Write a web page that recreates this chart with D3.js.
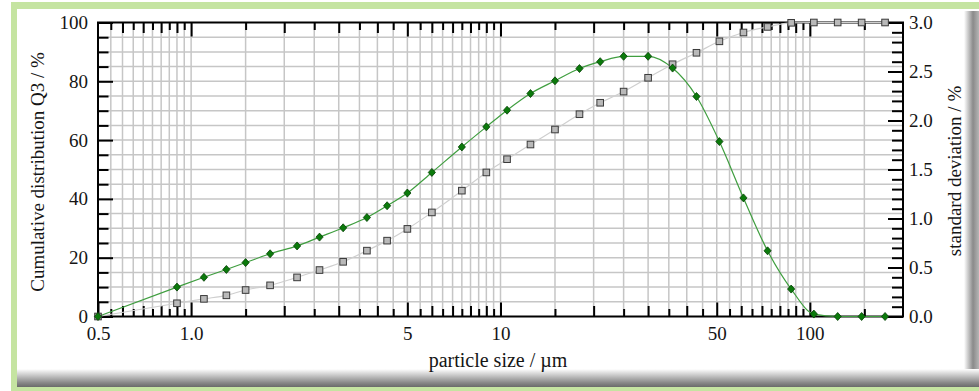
<!DOCTYPE html>
<html>
<head>
<meta charset="utf-8">
<script src="https://cdn.jsdelivr.net/npm/d3@7"></script>
<style>
  body { margin: 0; background: #fff; }
  svg { display: block; }
  text { font-family: "Liberation Serif", "DejaVu Serif", serif; fill: #151515; }
</style>
</head>
<body>
<script>
// particle size classes (µm)
const sizes = [0.5, 0.9, 1.1, 1.3, 1.5, 1.8, 2.2, 2.6, 3.1, 3.7, 4.3, 5.0, 6.0, 7.5, 9.0, 10.5,
  12.5, 15, 18, 21, 25, 30, 36, 43, 51, 61, 73, 87, 103, 123, 147, 175];
// cumulative distribution Q3 / %
const q3 = [0, 4.5, 6.0, 7.2, 9.0, 10.6, 13.3, 15.8, 18.6, 22.4, 25.8, 29.8, 35.4, 42.8, 49.0, 53.5,
  58.5, 63.6, 68.8, 72.7, 76.5, 81.2, 85.8, 89.7, 93.6, 96.6, 98.5, 99.9, 100, 100, 100, 100];
// standard deviation / %
const stdDev = [0, 0.30, 0.40, 0.48, 0.55, 0.64, 0.72, 0.81, 0.905, 1.01, 1.13, 1.26, 1.47, 1.73, 1.935, 2.105,
  2.275, 2.405, 2.53, 2.6, 2.655, 2.655, 2.535, 2.245, 1.785, 1.21, 0.67, 0.28, 0.025, 0, 0, 0];

const xTickVals = [0.5, 1, 5, 10, 50, 100];
const xTickText = ['0.5', '1.0', '5', '10', '50', '100'];
const yLeftTicks = [0, 20, 40, 60, 80, 100];
const yRightTicks = [0, 0.5, 1.0, 1.5, 2.0, 2.5, 3.0];

const W = 979, H = 391;
const svg = d3.select('body').append('svg').attr('width', W).attr('height', H);

// frame with green border and grey drop shadow
const defs = svg.append('defs');
const gR = defs.append('linearGradient').attr('id', 'shR').attr('x1', 0).attr('x2', 1).attr('y1', 0).attr('y2', 0);
gR.append('stop').attr('offset', '0%').attr('stop-color', '#fff');
gR.append('stop').attr('offset', '60%').attr('stop-color', '#8a8a8a');
gR.append('stop').attr('offset', '100%').attr('stop-color', '#b5b5b5');
const gB = defs.append('linearGradient').attr('id', 'shB').attr('x1', 0).attr('x2', 0).attr('y1', 0).attr('y2', 1);
gB.append('stop').attr('offset', '0%').attr('stop-color', '#fff');
gB.append('stop').attr('offset', '75%').attr('stop-color', '#8a8a8a');
gB.append('stop').attr('offset', '100%').attr('stop-color', '#6a6a6a');

svg.append('rect').attr('x', 11).attr('y', 2).attr('width', W - 11).attr('height', H - 2).attr('fill', '#c5e4a1');
svg.append('rect').attr('x', 17).attr('y', 9).attr('width', W - 17).attr('height', 378).attr('fill', '#fff');
svg.append('rect').attr('x', 964).attr('y', 11).attr('width', 15).attr('height', 376).attr('fill', 'url(#shR)');
svg.append('rect').attr('x', 17).attr('y', 369).attr('width', W - 17).attr('height', 18).attr('fill', 'url(#shB)');

const pLeft = 98, pRight = 903, pTop = 22.5, pBottom = 316.5;
const x = d3.scaleLog().domain([0.5, 200]).range([pLeft, pRight]);
const yL = d3.scaleLinear().domain([0, 100]).range([pBottom, pTop]);
const yR = d3.scaleLinear().domain([0, 3]).range([pBottom, pTop]);

// grid positions (log-style subdivisions)
const gridX = [].concat(
  d3.range(11, 20).map(i => +(i * 0.05).toFixed(2)), [1],
  d3.range(3, 20).map(i => i * 0.5), [10],
  d3.range(3, 20).map(i => i * 5), [100, 150]);
const gridY = d3.range(1, 20).map(i => i * 5);

function tickLen(v) {
  const m = +(v / Math.pow(10, Math.floor(Math.log10(v) + 1e-9))).toFixed(2);
  if (m === 1 || m === 5) return 14;
  if (Number.isInteger(m)) return 10.5;
  return 7.5;
}

const grid = svg.append('g').attr('stroke', '#c6c6c6').attr('stroke-width', 1.5);
grid.selectAll('.gx').data(gridX).join('line')
  .attr('x1', d => x(d)).attr('x2', d => x(d)).attr('y1', pTop).attr('y2', pBottom);
grid.selectAll('.gy').data(gridY).join('line')
  .attr('x1', pLeft).attr('x2', pRight).attr('y1', d => yL(d)).attr('y2', d => yL(d));

// axes
const fmtX = d => { const i = xTickVals.indexOf(d); return i < 0 ? '' : xTickText[i]; };
const gxB = svg.append('g').attr('transform', `translate(0,${pBottom})`)
  .call(d3.axisBottom(x).tickValues([0.5].concat(gridX)).tickSizeOuter(0).tickSizeInner(-1).tickPadding(10).tickFormat(fmtX));
gxB.selectAll('.tick line').attr('y2', d => -tickLen(d));
const gxT = svg.append('g').attr('transform', `translate(0,${pTop})`)
  .call(d3.axisTop(x).tickValues(gridX).tickSizeOuter(0).tickSizeInner(-1).tickFormat(''));
gxT.selectAll('.tick line').attr('y2', d => tickLen(d));

const gyL = svg.append('g').attr('transform', `translate(${pLeft},0)`)
  .call(d3.axisLeft(yL).tickValues(d3.range(0, 101, 5)).tickSizeOuter(0).tickSizeInner(-1).tickPadding(10)
    .tickFormat(d => yLeftTicks.includes(d) ? String(d) : ''));
gyL.selectAll('.tick line').attr('x2', d => (d % 20 === 0 ? 15 : 10.5));

const gyR = svg.append('g').attr('transform', `translate(${pRight},0)`)
  .call(d3.axisRight(yR).tickValues(d3.range(0, 31).map(i => i / 10)).tickSizeOuter(0).tickSizeInner(-1).tickPadding(6)
    .tickFormat(d => { const i = yRightTicks.findIndex(t => Math.abs(t - d) < 1e-6); return i < 0 ? '' : yRightTicks[i].toFixed(1); }));
gyR.selectAll('.tick line').attr('x2', d => (Math.abs(d * 2 - Math.round(d * 2)) < 1e-6 ? -15 : -11));

svg.selectAll('.domain').remove();
svg.selectAll('.tick line').attr('stroke', '#000').attr('stroke-width', 2);
svg.selectAll('.tick text').attr('font-size', 19).attr('font-family', '"Liberation Serif", serif').attr('fill', '#151515');

svg.append('rect').attr('x', pLeft).attr('y', pTop).attr('width', pRight - pLeft).attr('height', pBottom - pTop)
  .attr('fill', 'none').attr('stroke', '#000').attr('stroke-width', 2);

// axis titles
svg.append('text').attr('x', 498).attr('y', 367).attr('text-anchor', 'middle').attr('font-size', 20)
  .text('particle size / µm');
svg.append('text').attr('transform', 'translate(44,172) rotate(-90)').attr('text-anchor', 'middle').attr('font-size', 19)
  .text('Cumulative distribution Q3 / %');
svg.append('text').attr('transform', 'translate(961,171) rotate(-90)').attr('text-anchor', 'middle').attr('font-size', 19)
  .text('standard deviation / %');

// series
const lineQ = d3.line().x((d, i) => x(sizes[i])).y(d => yL(d)).curve(d3.curveMonotoneX);
const lineS = d3.line().x((d, i) => x(sizes[i])).y(d => yR(d)).curve(d3.curveMonotoneX);

svg.append('path').datum(q3).attr('d', lineQ).attr('fill', 'none').attr('stroke', '#cfcfcf').attr('stroke-width', 1.2);
svg.append('path').datum(stdDev).attr('d', lineS).attr('fill', 'none').attr('stroke', '#3f9e3f').attr('stroke-width', 1.2);

svg.append('g').selectAll('rect').data(q3).join('rect')
  .attr('x', (d, i) => x(sizes[i]) - 3.3).attr('y', d => yL(d) - 3.3)
  .attr('width', 6.6).attr('height', 6.6)
  .attr('fill', '#b9b9b9').attr('stroke', '#3a3a3a').attr('stroke-width', 1);

svg.append('g').selectAll('path').data(stdDev).join('path')
  .attr('transform', (d, i) => `translate(${x(sizes[i])},${yR(d)})`)
  .attr('d', 'M0,-4L3.6,0L0,4L-3.6,0Z')
  .attr('fill', '#0b7a0b').attr('stroke', '#043f04').attr('stroke-width', 0.8);
</script>
</body>
</html>
